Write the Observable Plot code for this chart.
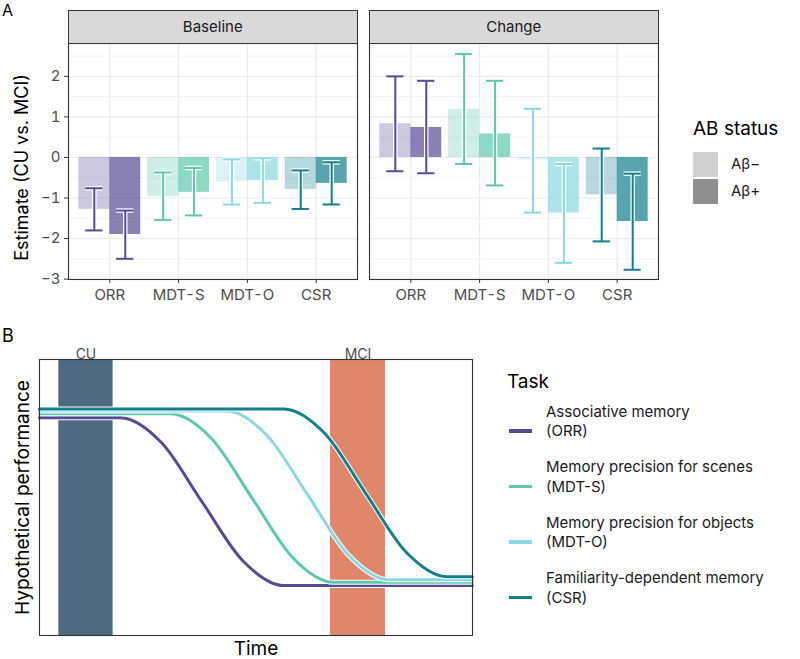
<!DOCTYPE html>
<html><head><meta charset="utf-8">
<script src="https://cdn.jsdelivr.net/npm/d3@7"></script>
<script src="https://cdn.jsdelivr.net/npm/@observablehq/plot@0.6"></script>
<style>
body{margin:0;background:#fff;font-family:Inter,"Noto Sans",sans-serif;}
#root{position:relative;width:800px;height:659px;overflow:hidden;background:#fff;}
.abs{position:absolute;white-space:nowrap;}
.strip{position:absolute;background:#d9d9d9;border:1px solid #333;box-sizing:border-box;display:flex;align-items:center;justify-content:center;font-size:15px;color:#1a1a1a;}
svg{overflow:visible;}
</style></head><body><div id="root"></div>
<script>
// ---------- data ----------
const tasks = ["ORR", "MDT-S", "MDT-O", "CSR"];
const taskColors = ["#574a94", "#5ec7ae", "#8ad8e0", "#127f8b"];
const taskNames = ["Associative memory", "Memory precision for scenes", "Memory precision for objects", "Familiarity-dependent memory"];
const statuses = ["Aβ−", "Aβ+"];
const statusOpacity = [0.3, 0.7];
const statusLegendColors = ["#d1d1d1", "#8f8f8f"];
const facets = ["Baseline", "Change"];
const yTicks = [-3, -2, -1, 0, 1, 2];
const yMinor = [-2.5, -1.5, -0.5, 0.5, 1.5, 2.5];

// Baseline estimates and 95% CI
const baseNegEst = [-1.28, -0.96, -0.60, -0.79];
const baseNegLo  = [-1.80, -1.54, -1.16, -1.27];
const baseNegHi  = [-0.76, -0.37, -0.05, -0.32];
const basePosEst = [-1.90, -0.86, -0.57, -0.64];
const basePosLo  = [-2.50, -1.43, -1.12, -1.16];
const basePosHi  = [-1.31, -0.26, -0.02, -0.12];
// Change estimates and 95% CI
const chgNegEst = [0.83, 1.19, -0.06, -0.92];
const chgNegLo  = [-0.34, -0.16, -1.36, -2.07];
const chgNegHi  = [2.00, 2.55, 1.20, 0.22];
const chgPosEst = [0.74, 0.58, -1.37, -1.58];
const chgPosLo  = [-0.39, -0.69, -2.60, -2.77];
const chgPosHi  = [1.89, 1.89, -0.16, -0.40];

// Panel B: hypothetical trajectories (time 0-100, performance 0-100)
const curveT = [
  [0, 18.7, 28.1, 37.5, 47.0, 56.4, 100],
  [0, 30.3, 39.7, 49.1, 58.5, 67.9, 100],
  [0, 43.3, 52.6, 62.0, 71.4, 80.7, 100],
  [0, 56.4, 65.9, 75.3, 84.8, 94.2, 100]
];
const curveP = [
  [78.9, 78.9, 70.0, 48.5, 27.0, 18.1, 18.1],
  [80.3, 80.3, 71.4, 49.8, 28.2, 19.3, 19.3],
  [81.3, 81.3, 72.4, 50.8, 29.1, 20.2, 20.2],
  [82.1, 82.1, 73.2, 51.6, 30.0, 21.3, 21.3]
];
const bandLabels = ["CU", "MCI"];
const bandStart = [4.46, 67.2];
const bandEnd = [17.0, 79.9];
const bandColors = ["#4e6a80", "#e0866a"];

// ---------- helpers ----------
const FONT = "Inter, 'Noto Sans', sans-serif";
const root = document.getElementById("root");
function place(el, left, top) { el.style.position = "absolute"; el.style.left = left + "px"; el.style.top = top + "px"; root.appendChild(el); return el; }
function addText(txt, left, cy, size, color, extra) {
  const d = document.createElement("div");
  d.className = "abs";
  d.textContent = txt;
  d.style.left = left + "px";
  d.style.top = (cy - size * 0.6) + "px";
  d.style.fontSize = size + "px";
  d.style.lineHeight = (size * 1.2) + "px";
  d.style.color = color;
  if (extra) Object.assign(d.style, extra);
  root.appendChild(d);
  return d;
}

function rowsFor(f) {
  const sets = f === 0
    ? [[baseNegEst, baseNegLo, baseNegHi], [basePosEst, basePosLo, basePosHi]]
    : [[chgNegEst, chgNegLo, chgNegHi], [chgPosEst, chgPosLo, chgPosHi]];
  const rows = [];
  sets.forEach(([est, lo, hi], s) => {
    tasks.forEach((t, i) => rows.push({task: t, i, s, status: statuses[s], est: est[i], lo: lo[i], hi: hi[i], color: taskColors[i]}));
  });
  return rows;
}

const barW = 0.45, capHalf = 0.125;
function panelA(f, showY) {
  const rows = rowsFor(f);
  const x1 = d => d.i + 1 - (d.s === 0 ? barW : 0);
  const x2 = d => d.i + 1 + (d.s === 0 ? 0 : barW);
  const xc = d => d.i + 1 + (d.s === 0 ? -barW / 2 : barW / 2);
  const marks = [
    Plot.gridY(yMinor, {stroke: "#ebebeb", strokeOpacity: 1, strokeWidth: 0.6}),
    Plot.gridY(yTicks, {stroke: "#ebebeb", strokeOpacity: 1, strokeWidth: 1.2}),
    Plot.gridX([1, 2, 3, 4], {stroke: "#ebebeb", strokeOpacity: 1, strokeWidth: 1.2})
  ];
  statuses.forEach((st, s) => {
    marks.push(Plot.rectY(rows.filter(d => d.s === s), {x1, x2, y1: 0, y2: "est", fill: "color", fillOpacity: statusOpacity[s]}));
  });
  const halo = {stroke: "white", strokeWidth: 4.5};
  const col = {stroke: "color", strokeWidth: 2};
  for (const st of [halo, col]) {
    marks.push(Plot.ruleX(rows, {x: xc, y1: "lo", y2: "hi", ...st}));
    marks.push(Plot.ruleY(rows, {y: "lo", x1: d => xc(d) - capHalf, x2: d => xc(d) + capHalf, ...st}));
    marks.push(Plot.ruleY(rows, {y: "hi", x1: d => xc(d) - capHalf, x2: d => xc(d) + capHalf, ...st}));
  }
  marks.push(Plot.frame({stroke: "#333", strokeWidth: 1.1}));
  marks.push(Plot.axisX([1, 2, 3, 4], {tickFormat: d => tasks[d - 1], tickSize: 4, tickPadding: 6, stroke: "#333", fill: "#4d4d4d", fontSize: 15, label: null}));
  if (showY) {
    marks.push(Plot.axisY(yTicks, {tickSize: 4, tickPadding: 4, stroke: "#333", fill: "#4d4d4d", fontSize: 15, label: null}));
    marks.push(Plot.text(["Estimate (CU vs. MCI)"], {frameAnchor: "left", textAnchor: "middle", lineAnchor: "middle", dx: -46, dy: 6, rotate: -90, fontSize: 18, fill: "#000"}));
  }
  return Plot.plot({
    width: showY ? 360 : 294,
    height: 310,
    marginTop: 43, marginBottom: 31,
    marginLeft: showY ? 68 : 2, marginRight: showY ? 3 : 3,
    x: {domain: [0.4, 4.6], axis: null},
    y: {domain: [-3.01, 2.81], axis: null},
    color: {type: "identity"},
    style: {fontFamily: FONT, fontSize: "15px", background: "transparent"},
    marks
  });
}

// ---------- panel A ----------
place(panelA(0, true), 0, 0);
place(panelA(1, false), 367, 0);
facets.forEach((name, f) => {
  const d = document.createElement("div");
  d.className = "strip";
  d.textContent = name;
  d.style.left = (f === 0 ? 68 : 369) + "px";
  d.style.top = "9.5px";
  d.style.width = "289.5px";
  d.style.height = "34px";
  root.appendChild(d);
});
addText("A", 2, 11, 16, "#000");

// AB status legend
addText("AB status", 693, 129, 19, "#000");
statuses.forEach((st, s) => {
  const sw = document.createElement("div");
  sw.style.width = "25px"; sw.style.height = "24.5px"; sw.style.background = statusLegendColors[s];
  place(sw, 693, 152 + s * 27.3);
  addText(st, 731, 164 + s * 27.3, 15, "#1a1a1a");
});

// ---------- panel B ----------
const bands = bandLabels.map((l, i) => ({label: l, start: bandStart[i], end: bandEnd[i], color: bandColors[i]}));
const curves = [];
tasks.forEach((t, k) => curveT[k].forEach((tt, j) => curves.push({task: t, k, t: tt, p: curveP[k][j], color: taskColors[k]})));
const bMarks = [
  Plot.rect(bands, {x1: "start", x2: "end", fill: "color"}),
  Plot.text(bands, {x: d => (d.start + d.end) / 2, frameAnchor: "top", dy: -10, text: "label", fill: "#4d4d4d", fontSize: 14})
];
tasks.forEach((t, k) => {
  const data = curves.filter(d => d.k === k);
  bMarks.push(Plot.line(data, {x: "t", y: "p", stroke: "white", strokeWidth: 5, curve: "monotone-x"}));
  bMarks.push(Plot.line(data, {x: "t", y: "p", stroke: "color", strokeWidth: 3, curve: "monotone-x"}));
});
bMarks.push(Plot.frame({stroke: "#333", strokeWidth: 1.1}));
bMarks.push(Plot.text(["Time"], {frameAnchor: "bottom", lineAnchor: "middle", dy: 13, fontSize: 19, fill: "#000"}));
bMarks.push(Plot.text(["Hypothetical performance"], {frameAnchor: "left", textAnchor: "middle", lineAnchor: "middle", dx: -17, rotate: -90, fontSize: 19, fill: "#000"}));
const chartB = Plot.plot({
  width: 474, height: 324,
  marginLeft: 39, marginRight: 2, marginTop: 24, marginBottom: 24,
  x: {domain: [0, 100], axis: null},
  y: {domain: [0, 100], axis: null},
  color: {type: "identity"},
  style: {fontFamily: FONT, fontSize: "14px", background: "transparent"},
  marks: bMarks
});
place(chartB, 0, 335);
addText("B", 2, 336, 18, "#000");

// Task legend
addText("Task", 507, 382, 19, "#000");
const rowY = [431, 486.5, 542, 597.5];
tasks.forEach((t, k) => {
  const ln = document.createElement("div");
  ln.style.width = "23px"; ln.style.height = "3.5px"; ln.style.background = taskColors[k];
  place(ln, 509, rowY[k] - 1.75);
  addText(taskNames[k], 546, rowY[k] - 19.5, 15, "#1a1a1a");
  addText("(" + t + ")", 546, rowY[k], 15, "#1a1a1a");
});
</script></body></html>
